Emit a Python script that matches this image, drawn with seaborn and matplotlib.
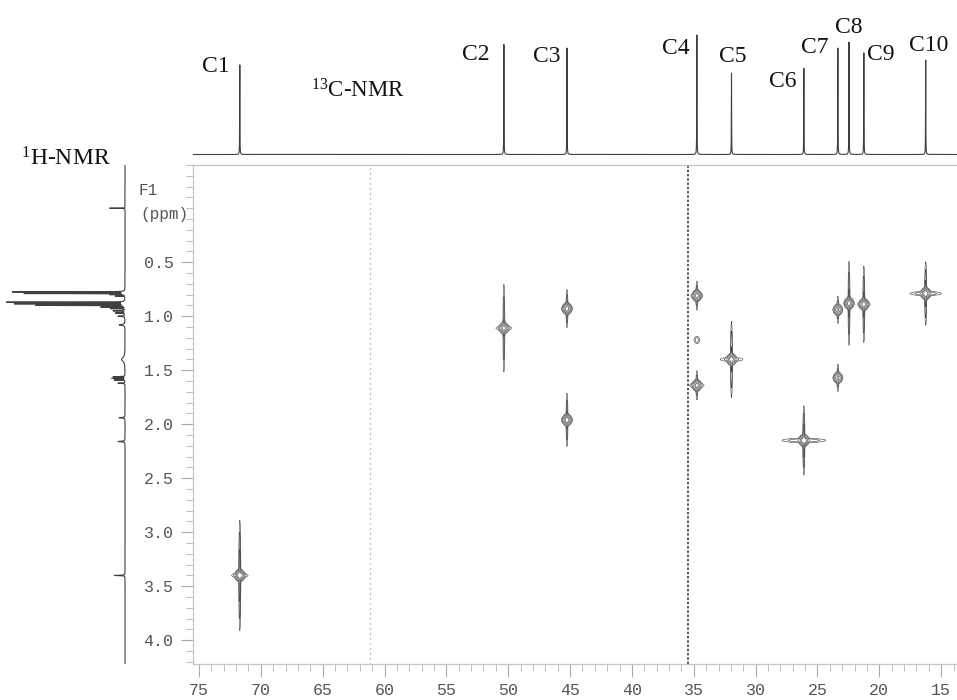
import numpy as np
import pandas as pd
import matplotlib
matplotlib.use("Agg")
import matplotlib.pyplot as plt
from matplotlib.ticker import MultipleLocator, FixedLocator, FuncFormatter
import seaborn as sns

# ---------------- data ----------------
# 13C 1D spectrum (top projection)
c13_labels = ["C1", "C2", "C3", "C4", "C5", "C6", "C7", "C8", "C9", "C10"]
c13_ppm = [71.7, 50.35, 45.25, 34.75, 31.95, 26.1, 23.35, 22.45, 21.25, 16.25]
c13_height = [0.75, 0.92, 0.89, 1.00, 0.68, 0.72, 0.89, 0.94, 0.85, 0.79]

# 1H 1D spectrum (left projection)
h1_ppm = [0.00, 0.775, 0.79, 0.80, 0.815, 0.87, 0.885, 0.90, 0.915, 0.93, 0.95, 0.97,
          1.00, 1.08, 1.40, 1.56, 1.575, 1.59, 1.62, 1.94, 2.16, 3.40]
h1_height = [0.13, 0.95, 0.85, 0.12, 0.08, 1.00, 0.93, 0.75, 0.20, 0.12, 0.10, 0.08,
             0.06, 0.05, 0.03, 0.10, 0.11, 0.09, 0.06, 0.05, 0.06, 0.09]
h1_width = [0.001, 0.001, 0.001, 0.001, 0.001, 0.001, 0.001, 0.001, 0.001, 0.001, 0.002, 0.002,
            0.003, 0.005, 0.02, 0.0015, 0.0015, 0.0015, 0.002, 0.003, 0.003, 0.002]

# HSQC cross peaks
hsqc_c = [71.7, 50.35, 45.25, 45.25, 34.75, 34.75, 34.75, 31.95, 26.1, 23.35, 23.35, 22.45, 21.25, 16.25]
hsqc_h = [3.40, 1.11, 0.93, 1.96, 0.81, 1.22, 1.64, 1.40, 2.15, 0.94, 1.57, 0.88, 0.89, 0.79]
hsqc_amp = [1.0, 0.7, 0.8, 0.8, 0.7, 0.12, 0.7, 0.8, 1.0, 0.6, 0.6, 0.8, 0.8, 0.9]
hsqc_streak = [0.27, 0.24, 0.10, 0.14, 0.08, 0.02, 0.08, 0.20, 0.17, 0.08, 0.08, 0.22, 0.20, 0.16]
hsqc_wing = [0.40, 0.45, 0.25, 0.25, 0.30, 0.10, 0.40, 0.60, 1.06, 0.20, 0.20, 0.20, 0.30, 0.80]

# t1-noise ridges
noise_ppm = [35.5, 61.2]

x_ticks = [75, 70, 65, 60, 55, 50, 45, 40, 35, 30, 25, 20, 15]
y_ticks = [0.5, 1.0, 1.5, 2.0, 2.5, 3.0, 3.5, 4.0]

# ---------------- layout ----------------
W, H = 957, 700
sns.set_theme(style="white")
plt.rcParams["font.family"] = ["DejaVu Sans"]
plt.rcParams["mathtext.fontset"] = "custom"
plt.rcParams["mathtext.rm"] = "Liberation Serif"
plt.rcParams["mathtext.it"] = "Liberation Serif:italic"
plt.rcParams["mathtext.bf"] = "Liberation Serif:bold"

fig = plt.figure(figsize=(W / 100, H / 100), dpi=100)
fig.patch.set_facecolor("white")

XLIM = (75.485, 13.72)
YLIM = (4.22, -0.40)

ax = fig.add_axes([193 / W, 1 - 664 / H, (957 - 193) / W, (664 - 165) / H])
ax_top = fig.add_axes([193 / W, 1 - 160 / H, (957 - 193) / W, 150 / H])
ax_side = fig.add_axes([0, 1 - 664 / H, 130 / W, (664 - 165) / H])

line_col = "#404040"

# ---------------- top 13C spectrum ----------------
xs = np.sort(np.concatenate([np.arange(13.7, 75.5, 0.005), np.array(c13_ppm)]))
ys = np.zeros_like(xs)
for p, h in zip(c13_ppm, c13_height):
    ys += h / (1 + ((xs - p) / 0.010) ** 2)
df_top = pd.DataFrame({"ppm": xs, "I": ys})
sns.lineplot(data=df_top, x="ppm", y="I", ax=ax_top, color=line_col, lw=0.8,
             estimator=None, sort=False)
ax_top.set_xlim(*XLIM)
ax_top.set_ylim(-0.046, 1.209)
ax_top.axis("off")

# ---------------- side 1H spectrum ----------------
hs = np.sort(np.concatenate([np.arange(-0.40, 4.22, 0.0004), np.array(h1_ppm)]))
hi = np.zeros_like(hs)
for p, h, w in zip(h1_ppm, h1_height, h1_width):
    hi += h / (1 + ((hs - p) / w) ** 2)
df_side = pd.DataFrame({"ppm": hs, "I": hi})
sns.lineplot(data=df_side, x="I", y="ppm", ax=ax_side, color=line_col, lw=0.8,
             estimator=None, sort=False, orient="y")
ax_side.set_xlim(1.059, -0.042)
ax_side.set_ylim(*YLIM)
ax_side.axis("off")

# ---------------- HSQC contour map ----------------
xg = np.arange(13.7, 75.5, 0.015)
yg = np.arange(-0.40, 4.22, 0.003)
Z = np.zeros((len(yg), len(xg)))
for c, h, a, L, Wg in zip(hsqc_c, hsqc_h, hsqc_amp, hsqc_streak, hsqc_wing):
    Z += a * np.outer(np.exp(-0.5 * ((yg - h) / 0.024) ** 2), np.exp(-0.5 * ((xg - c) / 0.17) ** 2))
    Z += 0.3 * a * np.outer(np.exp(-0.5 * ((yg - h) / L) ** 2), np.exp(-0.5 * ((xg - c) / 0.045) ** 2))
    Z += 0.2 * a * np.outer(np.exp(-0.5 * ((yg - h) / 0.012) ** 2), np.exp(-0.5 * ((xg - c) / Wg) ** 2))
ax.contour(xg, yg, Z, levels=[0.05, 0.1, 0.2, 0.4, 0.7],
           colors="#3a3a3a", linewidths=0.4)

ax.axvline(noise_ppm[0], color="#555555", lw=1.4, ls=(0, (1.2, 1.0)))
ax.axvline(noise_ppm[1], color="#9a9a9a", lw=0.9, ls=(0, (1, 3)))

ax.set_xlim(*XLIM)
ax.set_ylim(*YLIM)
ax.set_facecolor("white")
ax.grid(False)
for s in ["top", "left", "bottom"]:
    ax.spines[s].set_color("#c4c4c4")
    ax.spines[s].set_linewidth(0.9)
ax.spines["right"].set_visible(False)

ax.xaxis.set_major_locator(FixedLocator(x_ticks))
ax.xaxis.set_minor_locator(MultipleLocator(1))
ax.yaxis.set_major_locator(FixedLocator(y_ticks))
ax.yaxis.set_minor_locator(MultipleLocator(0.1))
ax.xaxis.set_major_formatter(FuncFormatter(lambda v, p: f"{v:.0f}"))
ax.yaxis.set_major_formatter(FuncFormatter(lambda v, p: f"{v:.1f}"))
ax.tick_params(axis="both", which="major", direction="out", length=9, width=0.8,
               color="#aaaaaa", labelcolor="#555555", labelsize=12, pad=5,
               bottom=True, left=True)
ax.tick_params(axis="both", which="minor", direction="out", length=5, width=0.7,
               color="#bbbbbb", bottom=True, left=True)
for lab in ax.get_xticklabels() + ax.get_yticklabels():
    lab.set_family("Liberation Mono")
ax.set_xlabel("")
ax.set_ylabel("")

# ---------------- text ----------------
def ftxt(px, py, s, **kw):
    fig.text(px / W, 1 - py / H, s, **kw)

label_px = [(216, 72), (476, 60), (547, 62), (676, 54), (733, 62),
            (783, 87), (815, 53), (849, 33), (881, 60), (929, 51)]
for lab, (px, py) in zip(c13_labels, label_px):
    ftxt(px, py, lab, family="Liberation Serif", fontsize=17, ha="center",
         va="baseline", color="#111111")
ftxt(358, 97, r"$\mathregular{^{13}}$C-NMR", family="Liberation Serif", fontsize=16.5,
     ha="center", va="baseline", color="#111111")
ftxt(66, 165, r"$\mathregular{^{1}}$H-NMR", family="Liberation Serif", fontsize=17,
     ha="center", va="baseline", color="#111111")
ftxt(138, 195, "F1", family="Liberation Mono", fontsize=11.5, ha="left",
     va="baseline", color="#555555")
ftxt(140, 219, "(ppm)", family="Liberation Mono", fontsize=11.5, ha="left",
     va="baseline", color="#555555")

fig.savefig("out.png", dpi=100, facecolor="white")
